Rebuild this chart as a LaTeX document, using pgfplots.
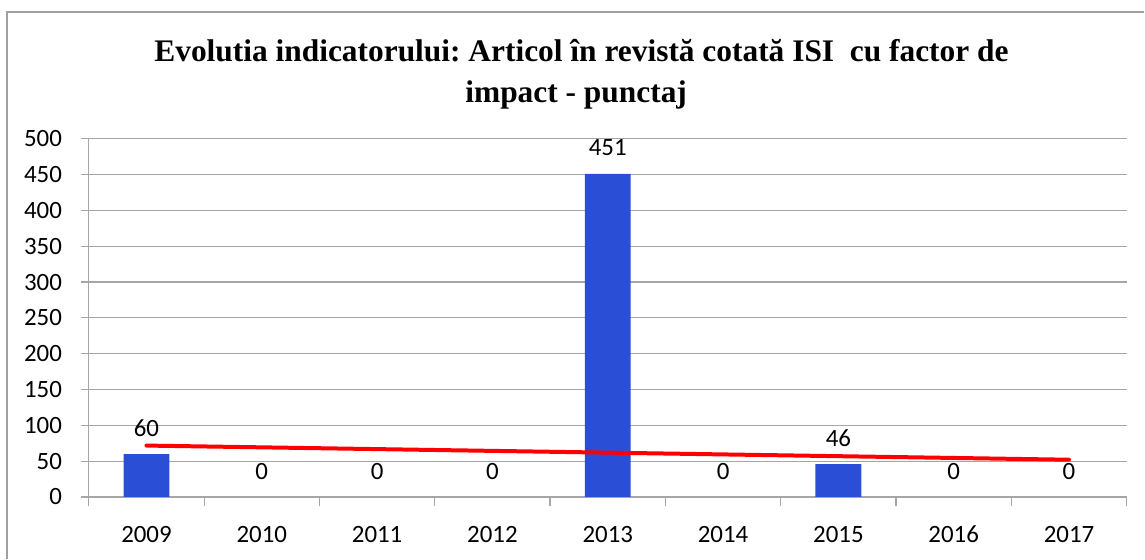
\documentclass[border=0pt]{standalone}
\usepackage{pgfplots}
\pgfplotsset{compat=1.18}
\usepackage{fontspec}
\setmainfont{Carlito}
\newfontfamily\titlefont{Liberation Serif}
\definecolor{barblue}{RGB}{42,79,214}
\definecolor{gridgray}{RGB}{166,166,166}
\definecolor{framegray}{RGB}{160,160,160}
\begin{document}
\frenchspacing
\begin{tikzpicture}
\path (0,0) rectangle (858.75pt,-417pt);
\draw[framegray, line width=1pt] (5.25pt,-420pt) -- (5.25pt,-9pt) -- (860pt,-9pt);
\node[anchor=base, inner sep=0pt, font=\titlefont\bfseries\fontsize{23.6}{26}\selectfont] at (437pt,-46.5pt) {Evolutia indicatorului: Articol în revistă cotată ISI\ \ cu factor de};
\node[anchor=base, inner sep=0pt, font=\titlefont\bfseries\fontsize{23.6}{26}\selectfont] at (433pt,-77.25pt) {impact - punctaj};
\begin{axis}[
  at={(66.75pt,-373.5pt)}, anchor=south west,
  scale only axis, width=780pt, height=269.25pt,
  xmin=-0.5, xmax=8.5, ymin=0, ymax=500,
  ytick={0,50,...,500},
  xtick={0,1,2,3,4,5,6,7,8},
  xticklabels={2009,2010,2011,2012,2013,2014,2015,2016,2017},
  extra x ticks={-0.5,0.5,1.5,2.5,3.5,4.5,5.5,6.5,7.5,8.5},
  extra x tick labels={},
  axis x line*=bottom, axis y line*=left,
  axis line style={gridgray, line width=0.9pt, -},
  ymajorgrids, grid style={gridgray, line width=0.9pt},
  tick align=outside, major tick length=6pt,
  xtick style={draw=none},
  extra x tick style={xtick style={draw=gridgray, line width=0.9pt}, major tick length=6.75pt},
  ytick style={draw=gridgray, line width=0.9pt},
  /pgf/number format/assume math mode=true,
  tick label style={font=\fontsize{18.7}{20}\selectfont, text=black},
  yticklabel style={anchor=east, inner sep=0pt, xshift=-14pt},
  xticklabel style={anchor=north, inner sep=0pt, yshift=-15.5pt},
  clip=false,
]
% bars with a non-zero value
\addplot[ybar, bar width=34.5pt, fill=barblue, draw=none,
  nodes near coords,
  nodes near coords style={font=\fontsize{18.7}{20}\selectfont, text=black, anchor=base, inner sep=0pt, yshift=13.5pt}]
  coordinates {(0,60) (4,451) (6,46)};
% categories whose value is zero: label only
\addplot[draw=none, mark=none,
  nodes near coords,
  nodes near coords style={font=\fontsize{18.7}{20}\selectfont, text=black, anchor=base, inner sep=0pt, yshift=13.5pt}]
  coordinates {(1,0) (2,0) (3,0) (5,0) (7,0) (8,0)};
\addplot[red, line width=3pt, line cap=round] coordinates {(0,71.76) (8,52.02)};
\end{axis}
\end{tikzpicture}
\end{document}
